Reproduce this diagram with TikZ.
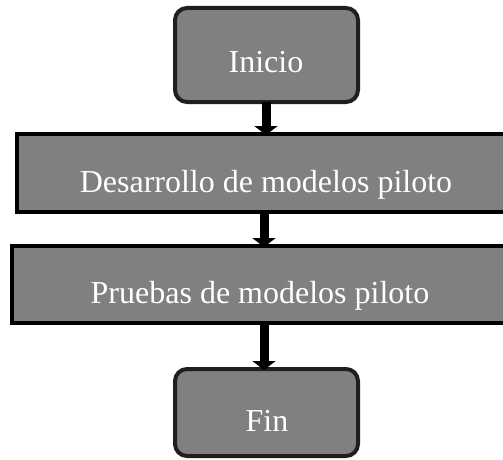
\documentclass[tikz,border=0pt]{standalone}
\usepackage{fontspec}
\setmainfont{Liberation Serif}
\usetikzlibrary{arrows.meta}
\definecolor{boxfill}{RGB}{128,128,128}
\definecolor{edgedark}{RGB}{35,30,25}
\tikzset{
  roundbox/.style={draw=edgedark, fill=boxfill, line width=4pt, rounded corners=12pt},
  rectbox/.style={draw=black, fill=boxfill, line width=4pt},
  lbl/.style={text=white, font=\fontsize{32}{36}\selectfont, anchor=base, inner sep=0pt},
  flow/.style={line width=9pt, draw=black, -{Triangle[width=23pt,length=9pt]}, shorten >=-1pt}
}
\begin{document}
\begin{tikzpicture}[x=1pt,y=-1pt]
\useasboundingbox (0,0) rectangle (503,460);
\draw[roundbox] (175,8) rectangle (358,102);
\coordinate (iniB) at (266,102);
\node[lbl] (ini) at (266,72) {Inicio};
\draw[rectbox] (17,134) rectangle (515,212);
\coordinate (desT) at (266,134);
\coordinate (desB) at (264,212);
\node[lbl] (des) at (266,192) {Desarrollo de modelos piloto};
\draw[rectbox] (12,246) rectangle (510,323);
\coordinate (pruT) at (264,246);
\coordinate (pruB) at (264,323);
\node[lbl] (pru) at (260,303) {Pruebas de modelos piloto};
\draw[roundbox] (175,369) rectangle (358,456);
\coordinate (finT) at (264,369);
\node[lbl] (fin) at (267,431) {Fin};
\draw[flow] (iniB) -- (desT);
\draw[flow] (desB) -- (pruT);
\draw[flow] (pruB) -- (finT);
\end{tikzpicture}
\end{document}
